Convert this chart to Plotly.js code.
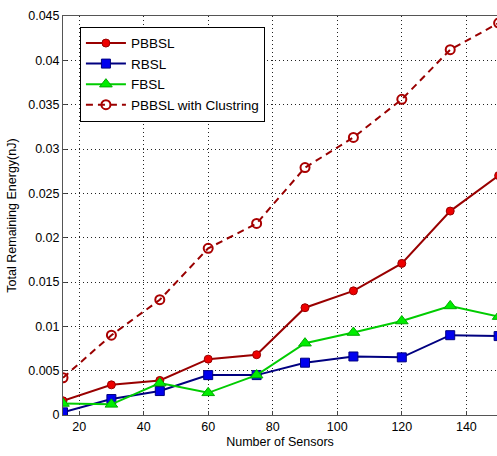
<!DOCTYPE html>
<html><head><meta charset="utf-8">
<script src="https://cdn.plot.ly/plotly-3.0.1.min.js"></script>
<style>body{margin:0;background:#fff}#c{width:497px;height:456px}</style>
</head><body><div id="c"></div>
<script>
const sensors = [15, 30, 45, 60, 75, 90, 105, 120, 135, 150];
const pbbsl = [0.0016, 0.0034, 0.0039, 0.0063, 0.0068, 0.0121, 0.0140, 0.0171, 0.0230, 0.0270];
const rbsl = [0.0003, 0.0018, 0.0027, 0.0045, 0.0045, 0.0059, 0.0066, 0.0065, 0.0090, 0.0089];
const fbsl = [0.0013, 0.0012, 0.0036, 0.0025, 0.0045, 0.0081, 0.0093, 0.0106, 0.0123, 0.0111];
const clustering = [0.0042, 0.0090, 0.0130, 0.0188, 0.0216, 0.0279, 0.0313, 0.0356, 0.0412, 0.0442];
const yTicks = [0, 0.005, 0.01, 0.015, 0.02, 0.025, 0.03, 0.035, 0.04, 0.045];
const yTickText = ['0', '0.005', '0.01', '0.015', '0.02', '0.025', '0.03', '0.035', '0.04', '0.045'];
const xTicks = [20, 40, 60, 80, 100, 120, 140];

const traces = [
  {x: sensors, y: pbbsl, name: 'PBBSL', mode: 'lines+markers',
   line: {color: '#990000', width: 2}, marker: {symbol: 'circle', size: 8, color: '#ee0000', line: {color: '#990000', width: 1}}},
  {x: sensors, y: rbsl, name: 'RBSL', mode: 'lines+markers',
   line: {color: '#000080', width: 2}, marker: {symbol: 'square', size: 9, color: '#0000ee', line: {color: '#000080', width: 1}}},
  {x: sensors, y: fbsl, name: 'FBSL', mode: 'lines+markers',
   line: {color: '#00cc00', width: 2}, marker: {symbol: 'triangle-up', size: 11, color: '#00ee00', line: {color: '#00aa00', width: 1}}},
  {x: sensors, y: clustering, name: 'PBBSL with Clustring', mode: 'lines+markers',
   line: {color: '#990000', width: 2, dash: '7px,5px'}, marker: {symbol: 'circle-open', size: 9, color: '#aa0000', line: {width: 2}}}
];

const layout = {
  width: 497, height: 456,
  margin: {l: 63, r: 0, t: 16, b: 41},
  paper_bgcolor: '#fff', plot_bgcolor: '#fff',
  font: {family: 'Liberation Sans, Arial, sans-serif', size: 12.5, color: '#000'},
  showlegend: true,
  legend: {x: 0.039, y: 0.973, xanchor: 'left', yanchor: 'top', bgcolor: '#fff',
    bordercolor: '#000', borderwidth: 1, font: {size: 13.5}, itemwidth: 40, tracegroupgap: 0},
  xaxis: {range: [15, 149.5], tickvals: xTicks, ticks: 'inside', ticklen: 4, tickcolor: '#444',
    showgrid: true, gridcolor: '#222', griddash: '1px,3px', gridwidth: 1,
    showline: true, linecolor: '#555', linewidth: 1, mirror: true, zeroline: false,
    title: {text: 'Number of Sensors', font: {size: 12.5}, standoff: 4}},
  yaxis: {range: [0, 0.045], tickvals: yTicks, ticktext: yTickText, ticks: 'inside', ticklen: 4, tickcolor: '#444',
    showgrid: true, gridcolor: '#222', griddash: '1px,3px', gridwidth: 1,
    showline: true, linecolor: '#555', linewidth: 1, mirror: true, zeroline: false,
    title: {text: 'Total Remaining Energy(nJ)', font: {size: 12.5}, standoff: 8}}
};
Plotly.newPlot('c', traces, layout, {displayModeBar: false, staticPlot: true});
</script></body></html>
